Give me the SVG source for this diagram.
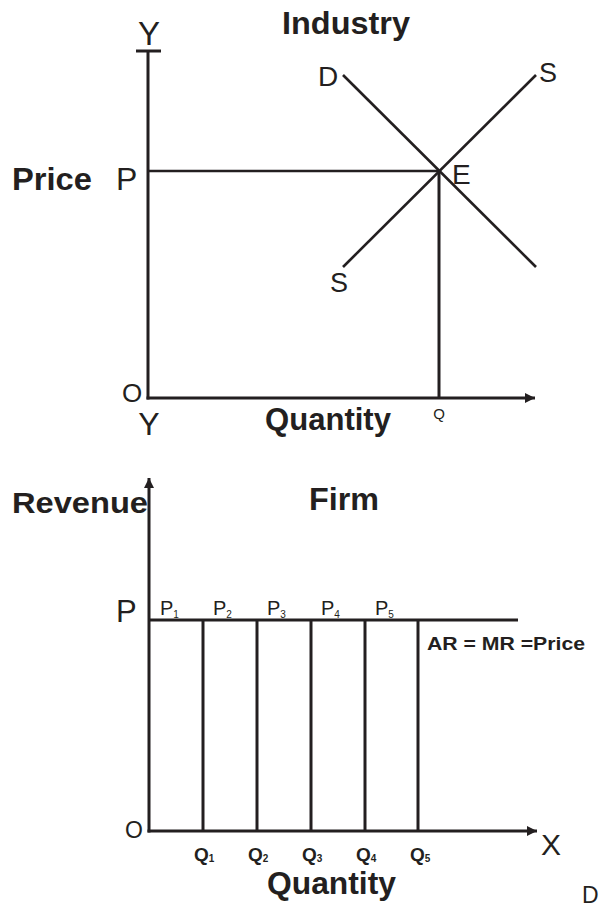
<svg xmlns="http://www.w3.org/2000/svg" width="599" height="907" viewBox="0 0 599 907">
<style>
.ln{stroke:#231f20;fill:none;stroke-linecap:butt}
.ax{stroke-width:3}
.cv{stroke-width:2.6}
.t{font-family:"Liberation Sans",Arial,sans-serif;fill:#231f20}
.b{font-weight:bold}
</style>
<defs>
<marker id="ah" viewBox="0 0 10 10" refX="10" refY="5" markerWidth="10" markerHeight="10" markerUnits="userSpaceOnUse" orient="auto">
<path d="M0,0 L10,5 L0,10 Z" fill="#231f20"/>
</marker>
</defs>
<rect width="599" height="907" fill="#fff"/>
<g id="connectors">
<!-- industry -->
<line class="ln ax" x1="148" y1="51" x2="148" y2="399.5"/>
<line class="ln ax" x1="136" y1="51" x2="161" y2="51"/>
<line class="ln ax" x1="146.5" y1="398" x2="535" y2="398" marker-end="url(#ah)"/>
<line class="ln cv" x1="148" y1="171" x2="439" y2="171"/>
<line class="ln ax" x1="439" y1="171" x2="439" y2="398"/>
<line class="ln cv" x1="343" y1="75" x2="536" y2="267"/>
<line class="ln cv" x1="343" y1="267" x2="536" y2="75"/>
<!-- firm -->
<line class="ln ax" x1="149" y1="832.5" x2="149" y2="478" marker-end="url(#ah)"/>
<line class="ln ax" x1="147.5" y1="831" x2="537" y2="831" marker-end="url(#ah)"/>
<line class="ln ax" x1="149" y1="620" x2="518" y2="620"/>
<line class="ln ax" x1="203" y1="620" x2="203" y2="831"/>
<line class="ln ax" x1="257" y1="620" x2="257" y2="831"/>
<line class="ln ax" x1="311" y1="620" x2="311" y2="831"/>
<line class="ln ax" x1="365" y1="620" x2="365" y2="831"/>
<line class="ln ax" x1="418" y1="620" x2="418" y2="831"/>
</g>
<g id="industry-labels">
<text class="t" x="149" y="45" font-size="33" text-anchor="middle">Y</text>
<text class="t b" x="282" y="34" font-size="31" textLength="128" lengthAdjust="spacingAndGlyphs">Industry</text>
<text class="t b" x="12" y="190" font-size="31" textLength="80" lengthAdjust="spacingAndGlyphs">Price</text>
<text class="t" x="116" y="190" font-size="32">P</text>
<text class="t" x="318" y="86" font-size="28">D</text>
<text class="t" x="452" y="184" font-size="28">E</text>
<text class="t" x="539" y="82" font-size="27">S</text>
<text class="t" x="330" y="292" font-size="27">S</text>
<text class="t" x="122" y="402" font-size="26">O</text>
<text class="t" x="149" y="435" font-size="32" text-anchor="middle">Y</text>
<text class="t b" x="265" y="430" font-size="31" textLength="126" lengthAdjust="spacingAndGlyphs">Quantity</text>
<text class="t" x="439" y="419" font-size="15" text-anchor="middle">Q</text>
</g>
<g id="firm-labels">
<text class="t b" x="12" y="513" font-size="30" textLength="136" lengthAdjust="spacingAndGlyphs">Revenue</text>
<text class="t b" x="309" y="510" font-size="31" textLength="70" lengthAdjust="spacingAndGlyphs">Firm</text>
<text class="t" x="116" y="622" font-size="31">P</text>
<text class="t" x="160" y="615" font-size="20">P<tspan font-size="10" dy="3">1</tspan></text>
<text class="t" x="213" y="615" font-size="20">P<tspan font-size="10" dy="3">2</tspan></text>
<text class="t" x="267" y="615" font-size="20">P<tspan font-size="10" dy="3">3</tspan></text>
<text class="t" x="321" y="615" font-size="20">P<tspan font-size="10" dy="3">4</tspan></text>
<text class="t" x="375" y="615" font-size="20">P<tspan font-size="10" dy="3">5</tspan></text>
<text class="t b" x="427" y="650" font-size="18" textLength="158" lengthAdjust="spacingAndGlyphs">AR = MR =Price</text>
<text class="t" x="125" y="838" font-size="23">O</text>
<text class="t" x="541" y="855" font-size="30">X</text>
<text class="t b" x="194" y="861" font-size="19">Q<tspan font-size="10" dy="1">1</tspan></text>
<text class="t b" x="248" y="861" font-size="19">Q<tspan font-size="10" dy="1">2</tspan></text>
<text class="t b" x="302" y="861" font-size="19">Q<tspan font-size="10" dy="1">3</tspan></text>
<text class="t b" x="356" y="861" font-size="19">Q<tspan font-size="10" dy="1">4</tspan></text>
<text class="t b" x="410" y="861" font-size="19">Q<tspan font-size="10" dy="1">5</tspan></text>
<text class="t b" x="267" y="894" font-size="31" textLength="129" lengthAdjust="spacingAndGlyphs">Quantity</text>
<text class="t" x="582" y="903" font-size="23">D</text>
</g>
</svg>
